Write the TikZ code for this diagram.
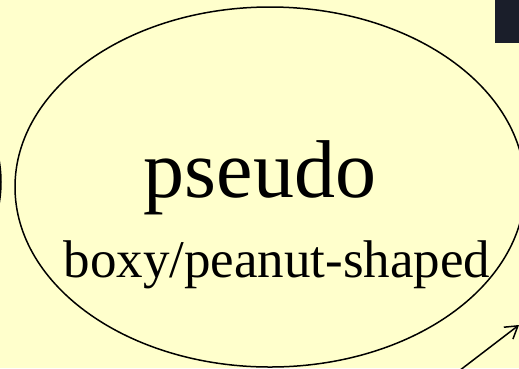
\documentclass[tikz,border=0pt]{standalone}
\usepackage{fontspec}
\setmainfont{Liberation Serif}
\usetikzlibrary{shapes.geometric,arrows.meta}
\definecolor{bgyellow}{HTML}{FFFFCC}
\definecolor{darkbox}{HTML}{1A1E2A}
\begin{document}
\begin{tikzpicture}[x=1pt,y=-1pt,
  oval/.style={draw=black,line width=1.5pt,ellipse,inner sep=0pt,outer sep=0pt,
    minimum width=510pt,minimum height=360pt},
  bigtext/.style={anchor=base,inner sep=0pt,font=\fontsize{82}{90}\selectfont},
  subtext/.style={anchor=base,inner sep=0pt,font=\fontsize{53}{60}\selectfont},
  conn/.style={line width=1.5pt,-{Straight Barb[length=12pt,width=15pt,line width=1.5pt]}}]
\fill[bgyellow] (0,0) rectangle (519,368);
\useasboundingbox (0,0) rectangle (519,368);
\clip (0,0) rectangle (519,368);
\node[fill=darkbox,inner sep=0pt,minimum width=26pt,minimum height=44pt,anchor=north west] (dark) at (495,-1) {};
\node[oval] (left) at (-254,182) {};
\node[oval] (main) at (270,187) {};
\node[bigtext] (t1) at (260,197) {pseudo};
\node[subtext] (t2) at (277,277) {boxy/peanut-shaped};
\coordinate (src) at (455,374);
\coordinate (dst) at (519,325);
\draw[conn] (src) -- (dst);
\end{tikzpicture}
\end{document}
